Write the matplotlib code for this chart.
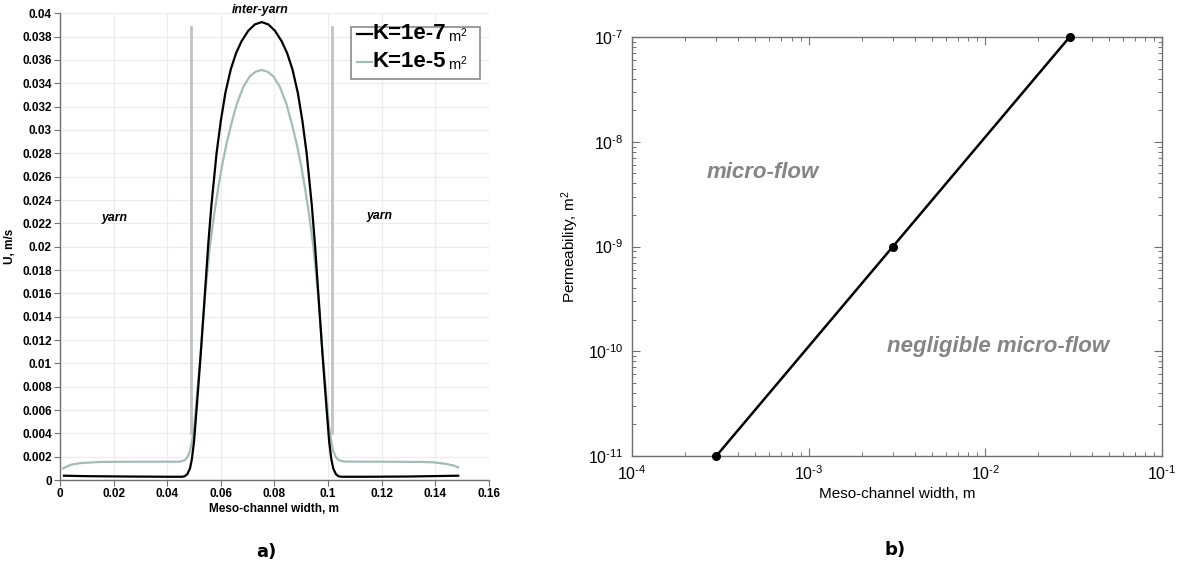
import math
import matplotlib
matplotlib.use("Agg")
import matplotlib.pyplot as plt
from matplotlib.ticker import FuncFormatter, MultipleLocator, LogLocator, NullFormatter
from matplotlib.lines import Line2D
from matplotlib.patches import Rectangle

plt.rcParams['font.family'] = ['Liberation Sans', 'DejaVu Sans']
plt.rcParams['mathtext.fontset'] = 'custom'
plt.rcParams['mathtext.rm'] = 'Liberation Sans'
plt.rcParams['mathtext.it'] = 'Liberation Sans:italic'
plt.rcParams['mathtext.bf'] = 'Liberation Sans:bold'

# ---------------- data: panel a ----------------
series_labels = ["K=1e-7", "K=1e-5"]
series_colors = ["#000000", "#a3bcb8"]

x_k7 = [0.0015, 0.010, 0.025, 0.040, 0.0455, 0.0465, 0.0475, 0.0485, 0.0492, 0.0500,
        0.0510, 0.0525, 0.0540, 0.0553, 0.0565, 0.0584, 0.0600, 0.0617, 0.0637, 0.0657,
        0.0677, 0.0702, 0.0727, 0.0752, 0.0777, 0.0802, 0.0827, 0.0847, 0.0867, 0.0887,
        0.0904, 0.0920, 0.0939, 0.0951, 0.0964, 0.0979, 0.0994, 0.1004, 0.1012, 0.1019,
        0.1029, 0.1039, 0.1050, 0.115, 0.130, 0.1485]
u_k7 = [0.00037, 0.00033, 0.00030, 0.00028, 0.00028, 0.00032, 0.00050, 0.00100, 0.00180, 0.00330,
        0.00620, 0.01080, 0.01580, 0.02020, 0.02360, 0.02800, 0.03080, 0.03320, 0.03520, 0.03660,
        0.03760, 0.03850, 0.03905, 0.03925, 0.03905, 0.03850, 0.03760, 0.03660, 0.03520, 0.03320,
        0.03080, 0.02800, 0.02360, 0.02020, 0.01580, 0.01080, 0.00620, 0.00330, 0.00180, 0.00100,
        0.00050, 0.00032, 0.00028, 0.00028, 0.00030, 0.00037]

x_k5 = [0.0012, 0.004, 0.0075, 0.015, 0.030, 0.0447, 0.0465, 0.0475, 0.0485, 0.0492,
        0.0500, 0.0510, 0.0525, 0.0540, 0.0559, 0.0574, 0.0590, 0.0605, 0.0621, 0.0640,
        0.0659, 0.0684, 0.0708, 0.0730, 0.0752, 0.0774, 0.0796, 0.0820, 0.0845, 0.0864,
        0.0883, 0.0899, 0.0914, 0.0930, 0.0945, 0.0964, 0.0979, 0.0994, 0.1004, 0.1012,
        0.1019, 0.1029, 0.1040, 0.1060, 0.120, 0.135, 0.1391, 0.1440, 0.1470, 0.1485]
u_k5 = [0.00100, 0.00130, 0.00145, 0.00155, 0.00157, 0.00157, 0.00170, 0.00195, 0.00250, 0.00330,
        0.00450, 0.00700, 0.01100, 0.01560, 0.02000, 0.02260, 0.02500, 0.02700, 0.02880, 0.03060,
        0.03220, 0.03370, 0.03460, 0.03500, 0.03514, 0.03500, 0.03460, 0.03370, 0.03220, 0.03060,
        0.02880, 0.02700, 0.02500, 0.02260, 0.02000, 0.01560, 0.01100, 0.00700, 0.00450, 0.00330,
        0.00250, 0.00195, 0.00170, 0.00158, 0.00157, 0.00155, 0.00152, 0.00138, 0.00123, 0.00109]

boundary_x = [0.0488, 0.1015]
boundary_y = [0.0040, 0.0388]

# ---------------- data: panel b ----------------
channel_width = [3e-4, 3e-3, 3e-2]
permeability = [1e-11, 1e-9, 1e-7]

fig = plt.figure(figsize=(11.78, 5.67), dpi=100)

# ================= panel a =================
ax1 = fig.add_axes([0.0509, 0.1534, 0.3642, 0.8231])
ax1.set_xlim(0, 0.16)
ax1.set_ylim(0, 0.04)
ax1.xaxis.set_major_locator(MultipleLocator(0.02))
ax1.yaxis.set_major_locator(MultipleLocator(0.002))
fmt = FuncFormatter(lambda v, p: f"{round(v, 4):g}")
ax1.xaxis.set_major_formatter(fmt)
ax1.yaxis.set_major_formatter(fmt)
ax1.grid(True, color="#ececec", linewidth=0.9)
ax1.set_axisbelow(True)
for s in ["top", "right"]:
    ax1.spines[s].set_visible(False)
for s in ["left", "bottom"]:
    ax1.spines[s].set_color("#707070")
    ax1.spines[s].set_linewidth(1.0)
ax1.tick_params(direction="out", length=4, width=0.8, color="#707070", labelsize=8.5, pad=2)
for lab in ax1.get_xticklabels() + ax1.get_yticklabels():
    lab.set_fontweight("bold")

for bx in boundary_x:
    ax1.plot([bx, bx], boundary_y, color="#c2c2c2", lw=2.0, zorder=2)
ax1.plot(x_k7, u_k7, color=series_colors[0], lw=1.6, zorder=4)
ax1.plot(x_k5, u_k5, color=series_colors[1], lw=1.6, zorder=3)

ax1.set_xlabel("Meso-channel width, m", fontsize=8.5, fontweight="bold", labelpad=2)
ax1.set_ylabel("U, m/s", fontsize=8.5, fontweight="bold", labelpad=4)

ax1.text(0.0745, 0.0403, "inter-yarn", fontsize=8.8, fontweight="bold", style="italic",
         ha="center", va="center", clip_on=False)
ax1.text(0.0205, 0.0225, "yarn", fontsize=8.8, fontweight="bold", style="italic",
         ha="center", va="center")
ax1.text(0.119, 0.0226, "yarn", fontsize=8.8, fontweight="bold", style="italic",
         ha="center", va="center")

# manual legend
lx0, ly0, lx1, ly1 = 0.678, 0.859, 0.979, 0.971
ax1.add_patch(Rectangle((lx0, ly0), lx1 - lx0, ly1 - ly0, transform=ax1.transAxes,
                        facecolor="white", edgecolor="#8a8a8a", lw=1.2, zorder=6, clip_on=False))
rows_y = [0.956, 0.896]
for lbl, col, ry in zip(series_labels, series_colors, rows_y):
    ax1.add_line(Line2D([0.692, 0.728], [ry, ry], transform=ax1.transAxes, color=col,
                        lw=1.6, zorder=7))
    ax1.text(0.729, ry, lbl, transform=ax1.transAxes, fontsize=16, fontweight="bold",
             ha="left", va="center", zorder=7)
    ax1.text(0.905, ry - 0.003, r"m$^2$", transform=ax1.transAxes, fontsize=10.5,
             ha="left", va="center", zorder=7)

fig.text(0.2264, 0.027, "a)", fontsize=13, fontweight="heavy", family="DejaVu Sans",
         ha="center", va="center")

# ================= panel b =================
ax2 = fig.add_axes([0.5365, 0.1958, 0.4499, 0.7389])
ax2.set_xscale("log")
ax2.set_yscale("log")
ax2.set_xlim(1e-4, 1e-1)
ax2.set_ylim(1e-11, 1e-7)
ax2.plot(channel_width, permeability, color="black", lw=1.8, marker="o", markersize=5.5,
         clip_on=False, zorder=5)
for s in ax2.spines.values():
    s.set_color("#707070")
    s.set_linewidth(1.0)


def pow_fmt(v, p):
    e = int(round(math.log10(v)))
    if e < 0:
        return r"$\mathdefault{10^{\text{-}%d}}$" % (-e)
    return r"$\mathdefault{10^{%d}}$" % e


ax2.xaxis.set_major_locator(LogLocator(base=10, numticks=10))
ax2.yaxis.set_major_locator(LogLocator(base=10, numticks=10))
ax2.xaxis.set_minor_locator(LogLocator(base=10, subs=range(2, 10), numticks=20))
ax2.yaxis.set_minor_locator(LogLocator(base=10, subs=range(2, 10), numticks=20))
ax2.xaxis.set_major_formatter(FuncFormatter(pow_fmt))
ax2.yaxis.set_major_formatter(FuncFormatter(pow_fmt))
ax2.xaxis.set_minor_formatter(NullFormatter())
ax2.yaxis.set_minor_formatter(NullFormatter())
ax2.tick_params(which="both", direction="in", top=True, right=True, color="#707070",
                labelsize=11.5)
ax2.tick_params(which="major", length=6, width=0.8, pad=6)
ax2.tick_params(which="minor", length=3, width=0.7)
ax2.set_xlabel("Meso-channel width, m", fontsize=11, labelpad=3)
ax2.set_ylabel(r"Permeability, m$^2$", fontsize=11, labelpad=5)

ax2.text(5.5e-4, 5.1e-9, "micro-flow", color="#858585", fontsize=16, fontweight="bold",
         style="italic", ha="center", va="center")
ax2.text(1.18e-2, 1.1e-10, "negligible micro-flow", color="#858585", fontsize=16,
         fontweight="bold", style="italic", ha="center", va="center")

fig.text(0.7598, 0.030, "b)", fontsize=13, fontweight="heavy", family="DejaVu Sans",
         ha="center", va="center")

fig.savefig("out.png", dpi=100)
